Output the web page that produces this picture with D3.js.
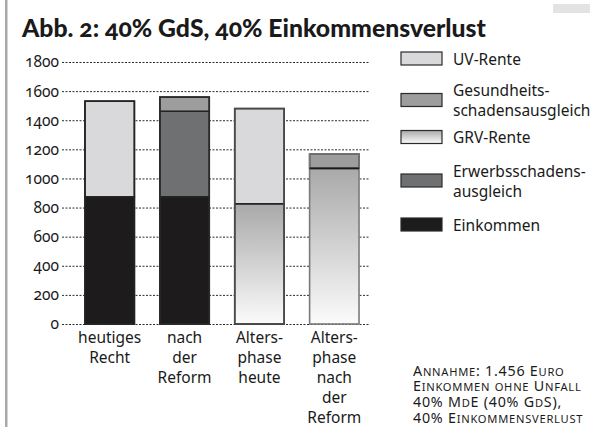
<!DOCTYPE html>
<html>
<head>
<meta charset="utf-8">
<script src="https://cdn.jsdelivr.net/npm/d3@7"></script>
<style>
  body { margin: 0; background: #fff; }
  svg { display: block; font-family: "Noto Sans", "Open Sans", sans-serif; font-feature-settings: "onum"; }
</style>
</head>
<body>
<svg id="chart" width="590" height="427"></svg>
<script>
"use strict";

// categories, one entry per bar (label lines)
const categories = [
    ["heutiges", "Recht"],
    ["nach", "der", "Reform"],
    ["Alters-", "phase", "heute"],
    ["Alters-", "phase", "nach", "der", "Reform"]
];

// series, stacked bottom to top
const seriesNames = ["Einkommen", "GRV-Rente", "Erwerbsschadensausgleich", "UV-Rente", "Gesundheitsschadensausgleich"];
const einkommen   = [874, 874, 0, 0];
const grvRente    = [0, 0, 826, 1069];
const erwerbs     = [0, 588, 0, 0];
const uvRente     = [657, 0, 654, 0];
const gesundheit  = [0, 97, 0, 99];

const yTicks = [0, 200, 400, 600, 800, 1000, 1200, 1400, 1600, 1800];

// legend, top to bottom
const legendItems = [
    { key: "UV-Rente", lines: ["UV-Rente"] },
    { key: "Gesundheitsschadensausgleich", lines: ["Gesundheits-", "schadensausgleich"] },
    { key: "GRV-Rente", lines: ["GRV-Rente"] },
    { key: "Erwerbsschadensausgleich", lines: ["Erwerbsschadens-", "ausgleich"] },
    { key: "Einkommen", lines: ["Einkommen"] }
];

const noteLines = ["Annahme: 1.456 Euro", "Einkommen ohne Unfall", "40% MdE (40% GdS),", "40% Einkommensverlust"];

const fills = {
    "Einkommen": "#1d1b1c",
    "GRV-Rente": "url(#grv)",
    "Erwerbsschadensausgleich": "#6f7072",
    "UV-Rente": "#d9d9db",
    "Gesundheitsschadensausgleich": "#9d9d9e"
};
const barStroke = ["#232323", "#2a2a2a", "#4a4a4a", "#7a7a7a"];
const ink = "#1a1a1a";

const svg = d3.select("#chart");

// gradient for GRV-Rente
const grad = svg.append("defs").append("linearGradient")
    .attr("id", "grv").attr("x1", 0).attr("y1", 0).attr("x2", 0).attr("y2", 1);
grad.append("stop").attr("offset", "0%").attr("stop-color", "#a9a9a9");
grad.append("stop").attr("offset", "100%").attr("stop-color", "#fbfbfb");

// decorative frame bits
svg.append("rect").attr("x", 5).attr("y", 0).attr("width", 2.5).attr("height", 427).attr("fill", "#a9a9a9");
svg.append("rect").attr("x", 553).attr("y", 4).attr("width", 37).attr("height", 9).attr("fill", "#e3e3e3");

// fit a text node to a width by changing its font size
function fitWidth(sel, size, width) {
    sel.attr("font-size", size);
    const w = sel.node().getComputedTextLength();
    sel.attr("font-size", size * width / w);
}

// title
const title = svg.append("text")
    .attr("x", 22).attr("y", 37)
    .attr("font-family", "Lato, sans-serif")
    .attr("font-weight", 900)
    .attr("fill", ink)
    .text("Abb. 2: 40% GdS, 40% Einkommensverlust");
fitWidth(title, 24, 464);

// scales
const y = d3.scaleLinear().domain([0, 1800]).range([324, 62]);
const x = d3.scaleBand().domain(d3.range(categories.length)).range([73, 371])
    .paddingInner(0.34).paddingOuter(0.16);

// grid + y axis
const gridLeft = 62, gridRight = 370;
const yAxis = svg.append("g")
    .attr("transform", "translate(" + gridLeft + ",0)")
    .call(d3.axisLeft(y).tickValues(yTicks).tickSize(-(gridRight - gridLeft)).tickPadding(3).tickFormat(d3.format("d")));
yAxis.select(".domain").remove();
yAxis.selectAll(".tick line")
    .attr("stroke", "#2a2a2a")
    .attr("stroke-width", 1)
    .attr("stroke-dasharray", "2,1.5");
yAxis.selectAll(".tick text")
    .style("font-size", "15.5px")
    .style("font-family", "\"Noto Sans\", sans-serif")
    .attr("fill", ink);

// stacked bars
const table = categories.map((c, i) => ({
    "Einkommen": einkommen[i],
    "GRV-Rente": grvRente[i],
    "Erwerbsschadensausgleich": erwerbs[i],
    "UV-Rente": uvRente[i],
    "Gesundheitsschadensausgleich": gesundheit[i]
}));
const stacked = d3.stack().keys(seriesNames)(table);

const bars = svg.append("g");
stacked.forEach(function (layer) {
    layer.forEach(function (d, i) {
        if (d[1] - d[0] <= 0) return;
        bars.append("rect")
            .attr("x", x(i))
            .attr("y", y(d[1]))
            .attr("width", x.bandwidth())
            .attr("height", y(d[0]) - y(d[1]))
            .attr("fill", fills[layer.key])
            .attr("stroke", i === 3 && layer.key === "GRV-Rente" ? "none" : "#222")
            .attr("stroke-width", 1.5);
    });
});
// outer outline per bar
table.forEach(function (row, i) {
    const total = d3.sum(seriesNames, k => row[k]);
    bars.append("rect")
        .attr("x", x(i))
        .attr("y", y(total))
        .attr("width", x.bandwidth())
        .attr("height", y(0) - y(total))
        .attr("fill", "none")
        .attr("stroke", barStroke[i])
        .attr("stroke-width", 1.6);
});
// segment dividers on bar 4
stacked.forEach(function (layer) {
    const d = layer[3];
    if (d[1] - d[0] > 0 && d[0] > 0) {
        bars.append("line")
            .attr("x1", x(3)).attr("x2", x(3) + x.bandwidth())
            .attr("y1", y(d[0])).attr("y2", y(d[0]))
            .attr("stroke", ink).attr("stroke-width", 1.6);
    }
});

// category labels
const cats = svg.append("g");
categories.forEach(function (lines, i) {
    const t = cats.append("text")
        .attr("text-anchor", "middle")
        .attr("font-size", 15.5)
        .attr("fill", ink);
    lines.forEach(function (ln, j) {
        t.append("tspan")
            .attr("x", x(i) + x.bandwidth() / 2)
            .attr("y", 343 + j * 20)
            .text(ln);
    });
});

// legend
const legendY = [58.5, 100, 137, 180.5, 224.5];
const legend = svg.append("g");
legendItems.forEach(function (item, i) {
    const cy = legendY[i];
    legend.append("rect")
        .attr("x", 401).attr("y", cy - 6.5)
        .attr("width", 41).attr("height", 13)
        .attr("fill", fills[item.key])
        .attr("stroke", "#2a2a2a").attr("stroke-width", 1.2);
    const t = legend.append("text").attr("font-size", 15.5).attr("fill", ink);
    item.lines.forEach(function (ln, j) {
        const base = item.lines.length === 1 ? cy + 6 : cy - 4 + j * 20;
        t.append("tspan").attr("x", 453).attr("y", base).text(ln);
    });
});

// assumption note, hand-made small caps, one text block
const noteSize = 14.3;
const note = svg.append("text")
    .attr("fill", ink)
    .attr("font-size", noteSize)
    .attr("letter-spacing", 0.75)
    .style("font-feature-settings", "\"lnum\"");
noteLines.forEach(function (ln, j) {
    const line = note.append("tspan").attr("x", 413).attr("y", 375.5 + j * 15.8);
    const runs = ln.match(/[a-zäöüß]+|[^a-zäöüß]+/g);
    runs.forEach(function (r) {
        const lower = /[a-zäöüß]/.test(r[0]);
        line.append("tspan")
            .attr("font-size", lower ? noteSize * 0.78 : noteSize)
            .text(lower ? r.toUpperCase() : r);
    });
});
</script>
</body>
</html>
